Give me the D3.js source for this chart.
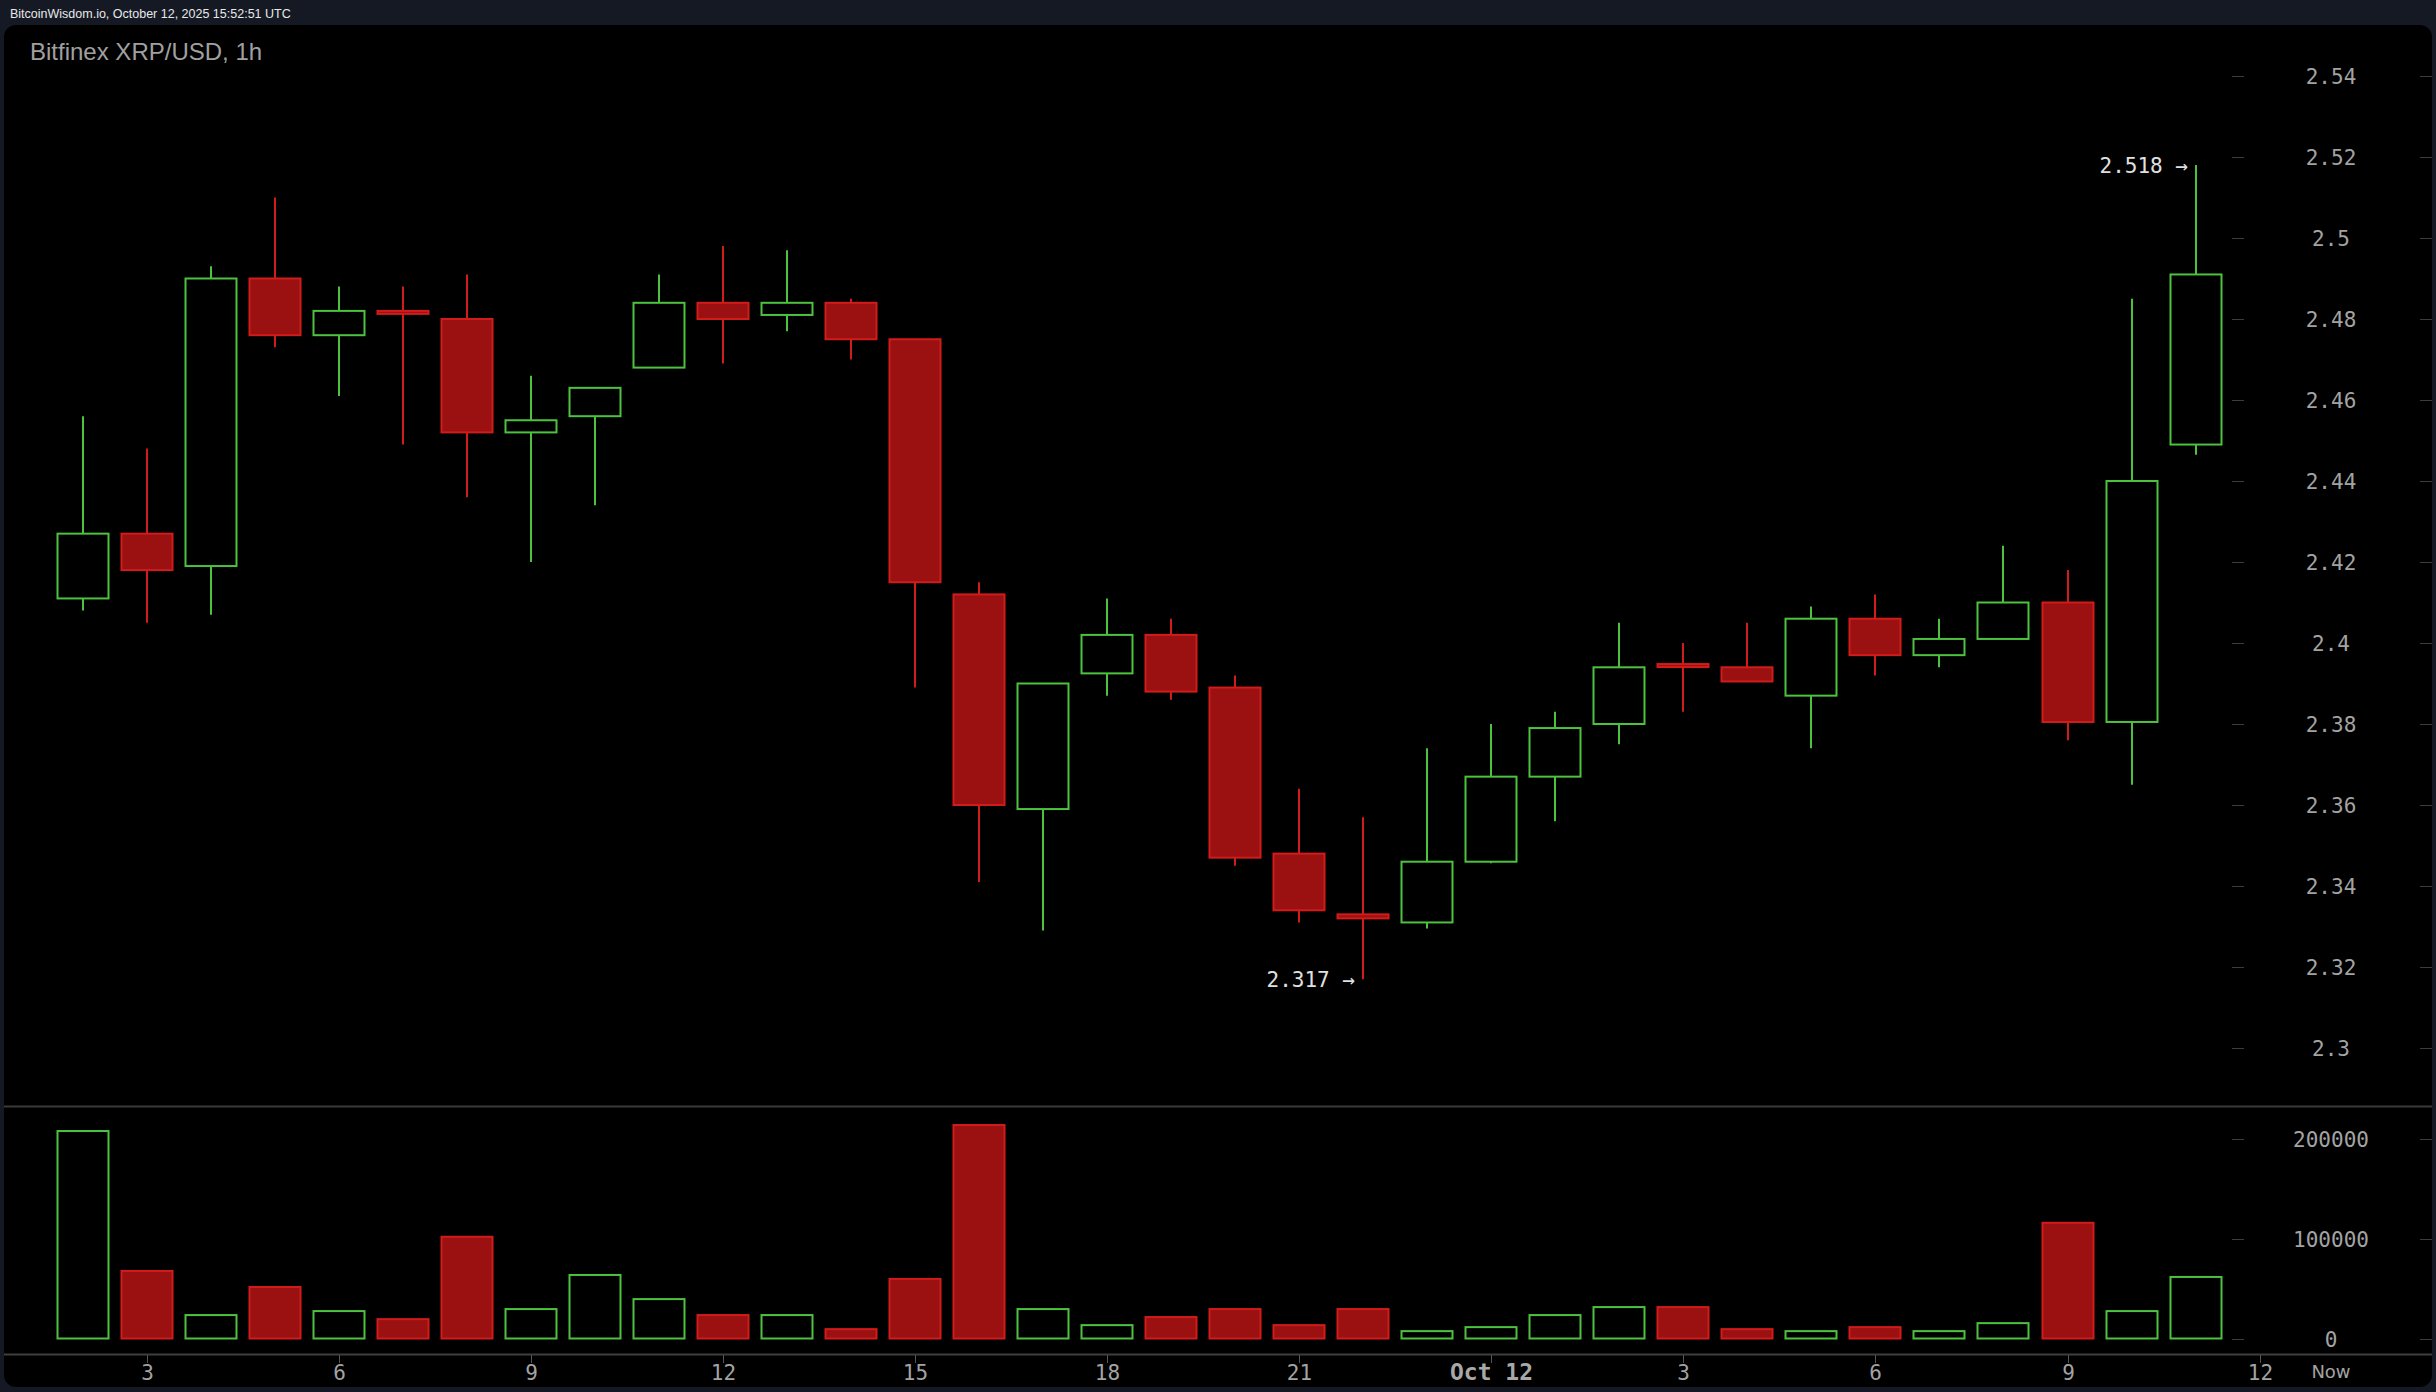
<!DOCTYPE html>
<html>
<head>
<meta charset="utf-8">
<script src="https://cdn.jsdelivr.net/npm/d3@7"></script>
<style>
  html, body { margin: 0; padding: 0; background: #151924; }
  svg { display: block; }
</style>
</head>
<body>
<svg id="chart" width="2436" height="1392"></svg>
<script>
// ---- data (hourly candles, Oct 11 02:00 -> Oct 12 11:00 UTC) ----
const startHour = "2025-10-11T02:00:00Z";
const opens  = [2.411,2.427,2.419,2.490,2.476,2.482,2.480,2.452,2.456,2.468,2.484,2.481,2.484,2.475,2.412,2.359,2.3925,2.402,2.389,2.348,2.333,2.331,2.346,2.367,2.380,2.3948,2.394,2.387,2.406,2.397,2.401,2.410,2.3805,2.449];
const highs  = [2.456,2.448,2.493,2.510,2.488,2.488,2.491,2.466,2.463,2.491,2.498,2.497,2.485,2.475,2.415,2.390,2.411,2.406,2.392,2.364,2.357,2.374,2.380,2.383,2.405,2.400,2.405,2.409,2.412,2.406,2.424,2.418,2.485,2.518];
const lows   = [2.408,2.405,2.407,2.473,2.461,2.449,2.436,2.420,2.434,2.468,2.469,2.477,2.470,2.389,2.341,2.329,2.387,2.386,2.345,2.331,2.317,2.3295,2.3456,2.356,2.375,2.383,2.3905,2.374,2.392,2.394,2.401,2.376,2.365,2.4465];
const closes = [2.427,2.418,2.490,2.476,2.482,2.4815,2.452,2.455,2.463,2.484,2.480,2.484,2.475,2.415,2.360,2.390,2.402,2.388,2.347,2.334,2.332,2.346,2.367,2.379,2.394,2.3943,2.3905,2.406,2.397,2.401,2.410,2.3805,2.440,2.491];
const volumes = [208000,67700,23500,51600,27500,19400,102000,29500,63700,39500,23500,23500,9400,59700,214000,29500,13400,21500,29500,13400,29500,7400,11400,23500,31500,31500,9400,7400,11400,7400,15400,116000,27500,61700];
const priceTicks = [2.3,2.32,2.34,2.36,2.38,2.4,2.42,2.44,2.46,2.48,2.5,2.52,2.54];
const volumeTicks = [0,100000,200000];
const timeTickLabels = ["3","6","9","12","15","18","21","Oct 12","3","6","9","12"];
const headerText = "BitcoinWisdom.io, October 12, 2025 15:52:51 UTC";
const titleText = "Bitfinex XRP/USD, 1h";

// ---- build candles ----
const t0 = new Date(startHour);
const candles = opens.map((o, i) => ({
  t: new Date(t0.getTime() + i * 3600e3),
  o, h: highs[i], l: lows[i], c: closes[i], v: volumes[i],
  up: closes[i] >= o
}));

const GREEN = "#4cc23f", RED = "#d21b1b", RED_FILL = "#9b1111";
const AXIS_TXT = "#a3a3a3", TICK = "#3c3c3c";

const svg = d3.select("#chart");

// page header
svg.append("text").attr("x", 10).attr("y", 18)
  .attr("font-family", "'Liberation Sans', Arial, sans-serif")
  .attr("font-size", 12.5).attr("fill", "#e8e8e8").text(headerText);

// black panel
svg.append("rect").attr("x", 4).attr("y", 25).attr("width", 2428).attr("height", 1362)
  .attr("rx", 12).attr("fill", "#000");

svg.append("text").attr("x", 30).attr("y", 60)
  .attr("font-family", "'Liberation Sans', Arial, sans-serif")
  .attr("font-size", 24).attr("fill", "#a0a0a0").text(titleText);

// scales
const x = d3.scaleUtc()
  .domain([t0, new Date(t0.getTime() + 34 * 3600e3)])
  .range([82.6, 2259.6]);
const y = d3.scaleLinear().domain([2.30, 2.54]).range([1048, 76]);
const yv = d3.scaleLinear().domain([0, 200000]).range([1338.5, 1139]);

const bodyW = 51;

// separators
svg.append("line").attr("x1", 4).attr("x2", 2432).attr("y1", 1106.5).attr("y2", 1106.5)
  .attr("stroke", "#3a3a3a").attr("stroke-width", 2);
svg.append("line").attr("x1", 4).attr("x2", 2432).attr("y1", 1354.5).attr("y2", 1354.5)
  .attr("stroke", "#3f3f3f").attr("stroke-width", 2);

// price axis labels + ticks
const mono = "'DejaVu Sans Mono', monospace";
const pAxis = svg.append("g");
priceTicks.forEach(p => {
  const yy = Math.round(y(p)) + 0.5;
  pAxis.append("line").attr("x1", 2232).attr("x2", 2244).attr("y1", yy).attr("y2", yy).attr("stroke", TICK);
  pAxis.append("line").attr("x1", 2420).attr("x2", 2432).attr("y1", yy).attr("y2", yy).attr("stroke", TICK);
  pAxis.append("text").attr("x", 2331).attr("y", yy).attr("dy", "0.36em")
    .attr("text-anchor", "middle").attr("font-family", mono).attr("font-size", 21)
    .attr("fill", AXIS_TXT).text(d3.format("")(p));
});
const vAxis = svg.append("g");
volumeTicks.forEach(v => {
  const yy = Math.round(yv(v)) + 0.5;
  vAxis.append("line").attr("x1", 2232).attr("x2", 2244).attr("y1", yy).attr("y2", yy).attr("stroke", TICK);
  vAxis.append("line").attr("x1", 2420).attr("x2", 2432).attr("y1", yy).attr("y2", yy).attr("stroke", TICK);
  vAxis.append("text").attr("x", 2331).attr("y", yy).attr("dy", "0.36em")
    .attr("text-anchor", "middle").attr("font-family", mono).attr("font-size", 21)
    .attr("fill", AXIS_TXT).text(v);
});

// time axis
const timeTicks = d3.range(timeTickLabels.length).map(i => new Date(t0.getTime() + (1 + 3 * i) * 3600e3));
const tAxis = svg.append("g");
timeTicks.forEach((t, i) => {
  const xx = Math.round(x(t)) + 0.5;
  tAxis.append("line").attr("x1", xx).attr("x2", xx).attr("y1", 1355).attr("y2", 1363).attr("stroke", "#555");
  const isDay = timeTickLabels[i].startsWith("Oct");
  tAxis.append("text").attr("x", xx).attr("y", 1372).attr("dy", "0.36em")
    .attr("text-anchor", "middle").attr("font-family", mono)
    .attr("font-size", isDay ? 23 : 21).attr("font-weight", isDay ? "bold" : "normal")
    .attr("fill", isDay ? "#a8a8a8" : AXIS_TXT).text(timeTickLabels[i]);
});
tAxis.append("text").attr("x", 2331).attr("y", 1372).attr("dy", "0.36em")
  .attr("text-anchor", "middle").attr("font-family", "'DejaVu Sans', sans-serif")
  .attr("font-size", 18).attr("fill", AXIS_TXT).text("Now");

// candles
const cg = svg.append("g");
candles.forEach(d => {
  const cx = Math.round(x(d.t));
  const col = d.up ? GREEN : RED;
  cg.append("line").attr("x1", cx).attr("x2", cx).attr("y1", y(d.h)).attr("y2", y(d.l))
    .attr("stroke", col).attr("stroke-width", 2);
  const top = y(Math.max(d.o, d.c)), bot = y(Math.min(d.o, d.c));
  const h = Math.max(bot - top, 3);
  cg.append("rect").attr("x", cx - bodyW / 2).attr("y", top).attr("width", bodyW).attr("height", h)
    .attr("fill", d.up ? "#000" : RED_FILL).attr("stroke", col).attr("stroke-width", 2);
  // volume
  const vt = yv(d.v), vb = yv(0);
  cg.append("rect").attr("x", cx - bodyW / 2).attr("y", vt).attr("width", bodyW).attr("height", Math.max(vb - vt, 2))
    .attr("fill", d.up ? "#000" : RED_FILL).attr("stroke", col).attr("stroke-width", 2);
});

// high / low annotations
const hi = candles.reduce((a, b) => b.h > a.h ? b : a);
const lo = candles.reduce((a, b) => b.l < a.l ? b : a);
[[hi, hi.h], [lo, lo.l]].forEach(([d, v]) => {
  svg.append("text").attr("x", Math.round(x(d.t)) - 8).attr("y", y(v)).attr("dy", "0.36em")
    .attr("text-anchor", "end").attr("font-family", mono).attr("font-size", 21)
    .attr("fill", "#e0e0e0").text(d3.format(".3f")(v) + " →");
});
</script>
</body>
</html>
